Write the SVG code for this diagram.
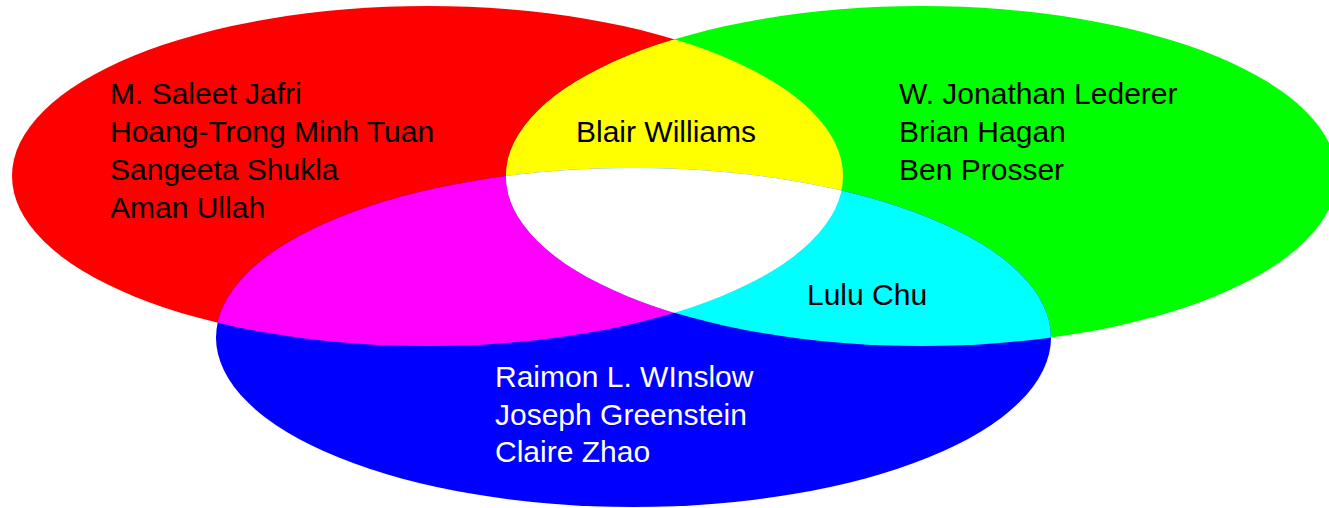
<svg xmlns="http://www.w3.org/2000/svg" width="1329" height="508" viewBox="0 0 1329 508">
<style>
  text { font-family: "Liberation Sans", Arial, sans-serif; font-size: 30px; fill: #000; }
  .light { fill: #fff; }
</style>
<defs>
  <ellipse id="eR" cx="427.5" cy="176" rx="415.5" ry="170"/>
  <ellipse id="eG" cx="921.5" cy="176" rx="415.5" ry="170"/>
  <ellipse id="eB" cx="633.5" cy="337.5" rx="417.5" ry="169.5"/>
  <clipPath id="cR"><use href="#eR"/></clipPath>
  <clipPath id="cG"><use href="#eG"/></clipPath>
</defs>
<rect width="1329" height="508" fill="#fff"/>
<g id="red-set">
  <use href="#eR" fill="#ff0000"/>
</g>
<g id="green-set">
  <use href="#eG" fill="#00ff00"/>
</g>
<g id="blue-set">
  <use href="#eB" fill="#0000ff"/>
</g>
<g id="red-green">
  <use href="#eG" fill="#ffff00" clip-path="url(#cR)"/>
</g>
<g id="red-blue">
  <use href="#eB" fill="#ff00ff" clip-path="url(#cR)"/>
</g>
<g id="green-blue">
  <use href="#eB" fill="#00ffff" clip-path="url(#cG)"/>
</g>
<g id="all-three" clip-path="url(#cG)">
  <use href="#eB" fill="#ffffff" clip-path="url(#cR)"/>
</g>
<g id="labels">
  <text x="110" y="104">M. Saleet Jafri</text>
  <text x="110" y="142">Hoang-Trong Minh Tuan</text>
  <text x="110" y="180">Sangeeta Shukla</text>
  <text x="110" y="218">Aman Ullah</text>
  <text x="576" y="142">Blair Williams</text>
  <text x="899" y="104">W. Jonathan Lederer</text>
  <text x="899" y="142">Brian Hagan</text>
  <text x="899" y="180">Ben Prosser</text>
  <text x="807" y="305">Lulu Chu</text>
  <text class="light" x="495" y="387">Raimon L. WInslow</text>
  <text class="light" x="495" y="424.5">Joseph Greenstein</text>
  <text class="light" x="495" y="462">Claire Zhao</text>
</g>
</svg>
